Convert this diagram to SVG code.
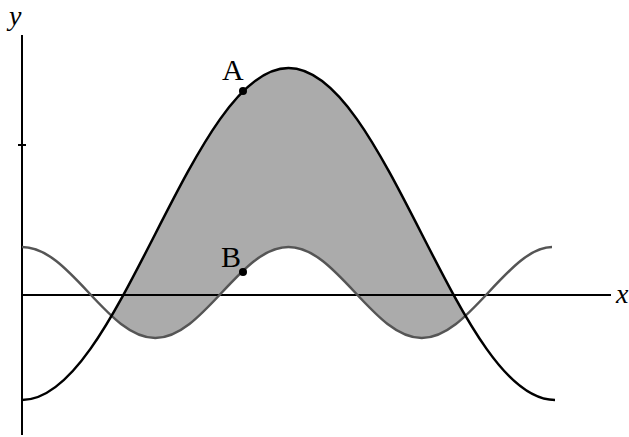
<svg xmlns="http://www.w3.org/2000/svg" width="629" height="437" viewBox="0 0 629 437">
<style>
.axis{stroke:#000;stroke-width:2;fill:none}
.curveA{stroke:#000;stroke-width:2.5;fill:none}
.curveB{stroke:#555;stroke-width:2.5;fill:none}
.lbl{font-family:"Liberation Serif","Times New Roman",serif;font-size:30px;fill:#000}
.it{font-style:italic}
.dot{fill:#000}
</style>
<defs>
<clipPath id="underGray">
<path d="M22,247 C46.11,247 66.90,269.19 88.625,292.5 C110.35,315.81 131.14,338 155.25,338 C179.36,338 200.15,315.81 221.875,292.5 C243.60,269.19 264.39,247 288.5,247 C312.61,247 333.40,269.19 355.125,292.5 C376.85,315.81 397.64,338 421.75,338 C445.86,338 466.65,315.81 488.375,292.5 C510.10,269.19 530.89,247 555,247 L555,0 L22,0 Z"/>
</clipPath>
</defs>
<g id="region">
<path d="M22,400 C70.23,400 111.79,319.04 155.25,234 C198.71,148.96 240.27,68 288.5,68 C336.73,68 378.29,148.96 421.75,234 C465.21,319.04 506.77,400 555,400 L555,437 L22,437 Z" fill="#ababab" clip-path="url(#underGray)"/>
</g>
<g id="axes">
<line class="axis" x1="22" y1="35" x2="22" y2="435"/>
<line class="axis" x1="22" y1="295" x2="611" y2="295"/>
<line class="axis" x1="18" y1="145" x2="26" y2="145"/>
<text class="lbl it" x="9" y="25" style="font-size:28px">y</text>
<text class="lbl it" x="616" y="303" style="font-size:28px">x</text>
</g>
<g id="connectors">
<path id="curveB" class="curveB" d="M22,247 C46.11,247 66.90,269.19 88.625,292.5 C110.35,315.81 131.14,338 155.25,338 C179.36,338 200.15,315.81 221.875,292.5 C243.60,269.19 264.39,247 288.5,247 C312.61,247 333.40,269.19 355.125,292.5 C376.85,315.81 397.64,338 421.75,338 C445.86,338 466.65,315.81 488.375,292.5 C510.10,269.19 530.89,247 552,247"/>
<path id="curveA" class="curveA" d="M22,400 C70.23,400 111.79,319.04 155.25,234 C198.71,148.96 240.27,68 288.5,68 C336.73,68 378.29,148.96 421.75,234 C465.21,319.04 506.77,400 555,400"/>
</g>
<g id="pointA">
<circle class="dot" cx="243" cy="91" r="4"/>
<text class="lbl" x="222" y="80">A</text>
</g>
<g id="pointB">
<circle class="dot" cx="243" cy="272" r="4"/>
<text class="lbl" x="221" y="266.5">B</text>
</g>
</svg>
